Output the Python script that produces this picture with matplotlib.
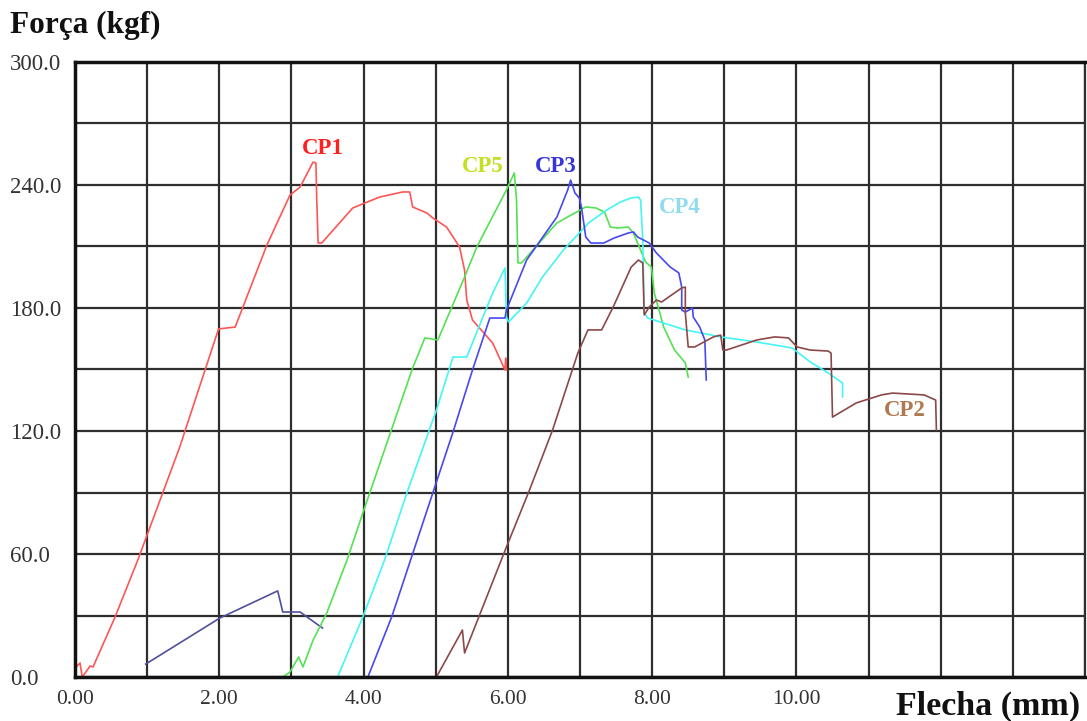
import matplotlib
matplotlib.use("Agg")
import matplotlib.pyplot as plt

# deflection (mm) / force (kgf)
cp1_x = [0.0, 0.07, 0.10, 0.15, 0.21, 0.25, 0.55, 0.87, 1.45, 1.99, 2.22, 2.66, 2.98, 3.12,
         3.30, 3.34, 3.35, 3.37, 3.42, 3.85, 4.22, 4.54, 4.64, 4.68, 4.88, 4.96, 5.15, 5.33,
         5.40, 5.43, 5.51, 5.79, 5.96, 5.97, 5.98]
cp1_y = [4.4, 6.8, 0.0, 2.4, 5.4, 4.9, 28.8, 57.0, 112.0, 169.8, 170.7, 210.7, 235.1, 239.0,
         251.2, 250.7, 234.0, 211.7, 211.7, 228.8, 234.1, 236.6, 236.6, 229.3, 226.3, 223.9,
         219.5, 209.8, 198.5, 183.9, 174.1, 162.9, 149.8, 155.6, 149.8]

cp1b_x = [0.98, 1.63, 2.01, 2.81, 2.88, 3.12, 3.43]
cp1b_y = [6.3, 20.5, 28.8, 42.0, 31.7, 31.7, 23.9]

cp5_x = [2.88, 2.98, 3.10, 3.16, 3.30, 3.49, 3.77, 3.99, 4.68, 4.85, 5.03, 5.40, 5.57, 5.98,
         6.09, 6.12, 6.14, 6.19, 6.68, 7.08, 7.22, 7.34, 7.42, 7.52, 7.67, 7.74, 7.91, 7.99,
         8.03, 8.16, 8.31, 8.46, 8.50]
cp5_y = [0.0, 2.4, 9.8, 4.9, 18.0, 31.2, 57.0, 80.0, 150.7, 165.4, 164.4, 195.1, 209.8, 237.6,
         245.9, 232.7, 202.0, 202.0, 221.5, 229.3, 228.8, 226.8, 219.5, 219.0, 219.5, 216.6,
         202.4, 200.0, 187.3, 170.7, 159.5, 153.2, 146.3]

cp4_x = [3.64, 3.99, 4.29, 4.60, 5.01, 5.24, 5.43, 5.79, 5.96, 5.98, 6.01, 6.26, 6.48, 6.77,
         7.12, 7.37, 7.56, 7.71, 7.81, 7.84, 7.87, 7.89, 7.94, 8.46, 8.95, 9.45, 9.94, 10.19,
         10.44, 10.64, 10.64]
cp4_y = [0.0, 29.3, 57.0, 89.8, 130.2, 156.1, 156.1, 187.3, 199.5, 175.6, 173.2, 182.4, 195.1,
         208.3, 221.5, 227.8, 231.7, 233.7, 234.1, 232.7, 213.2, 177.6, 175.1, 169.3, 165.9,
         163.4, 160.5, 153.7, 148.3, 143.4, 136.6]

cp3_x = [4.06, 4.39, 4.96, 5.24, 5.51, 5.75, 5.96, 5.98, 6.26, 6.68, 6.83, 6.87, 6.93, 6.99,
         7.02, 7.08, 7.15, 7.33, 7.47, 7.67, 7.74, 7.80, 7.96, 8.06, 8.25, 8.37, 8.41, 8.41,
         8.46, 8.56, 8.57, 8.66, 8.73, 8.75]
cp3_y = [0.0, 29.3, 89.8, 119.5, 149.8, 175.1, 175.1, 179.0, 203.4, 224.4, 237.6, 242.4, 236.1,
         233.7, 229.3, 214.6, 211.7, 211.7, 214.1, 216.6, 217.1, 214.6, 211.7, 206.8, 200.0,
         197.1, 190.2, 179.0, 178.0, 180.0, 175.6, 170.7, 164.4, 144.9]

cp2_x = [5.01, 5.37, 5.40, 5.98, 6.30, 6.62, 6.97, 7.11, 7.30, 7.46, 7.71, 7.81, 7.87, 7.89,
         7.96, 8.06, 8.13, 8.41, 8.46, 8.46, 8.50, 8.59, 8.85, 8.95, 8.98, 9.03, 9.45, 9.70,
         9.89, 10.01, 10.19, 10.44, 10.48, 10.50, 10.83, 11.18, 11.33, 11.77, 11.93, 11.94]
cp2_y = [0.0, 22.9, 11.7, 63.4, 91.2, 120.5, 158.0, 169.3, 169.3, 180.5, 200.0, 203.4, 202.0,
         176.6, 180.5, 183.9, 182.9, 189.8, 190.2, 177.6, 161.0, 161.0, 165.9, 166.8, 159.5,
         159.5, 164.4, 165.9, 165.4, 161.0, 159.5, 159.0, 158.0, 126.8, 133.7, 137.6, 138.5,
         137.6, 135.1, 120.5]

labels = ["CP1", "CP5", "CP3", "CP4", "CP2"]
label_x = [3.43, 5.65, 6.66, 8.38, 11.5]
label_y = [258, 249, 249, 229, 130]
label_colors = ["#ff2020", "#c4e020", "#3535d8", "#8fdcf0", "#b07850"]

x_ticks = list(range(0, 15))
x_tick_labels = ["0.00", "", "2.00", "", "4.00", "", "6.00", "", "8.00", "", "10.00", "", "", "", ""]
y_ticks = list(range(0, 301, 30))
y_tick_labels = ["0.0", "", "60.0", "", "120.0", "", "180.0", "", "240.0", "", "300.0"]

plt.rcParams["font.family"] = ["Liberation Serif", "DejaVu Serif"]

fig = plt.figure(figsize=(10.87, 7.21), dpi=100)
ax = fig.add_axes([75 / 1087, 44 / 721, 1010 / 1087, 615 / 721])

lw = 1.2
ax.plot(cp1_x, cp1_y, color="#ff5555", lw=lw)
ax.plot(cp1b_x, cp1b_y, color="#50509a", lw=lw)
ax.plot(cp5_x, cp5_y, color="#55e055", lw=lw)
ax.plot(cp4_x, cp4_y, color="#45f5f5", lw=lw)
ax.plot(cp3_x, cp3_y, color="#4848f0", lw=lw)
ax.plot(cp2_x, cp2_y, color="#8c4848", lw=lw)

for name, lx, ly, c in zip(labels, label_x, label_y, label_colors):
    ax.text(lx, ly, name, color=c, fontsize=16.5, fontweight="bold", ha="center", va="center")

ax.set_xlim(0, 14)
ax.set_ylim(0, 300)
ax.set_xticks(x_ticks)
ax.set_xticklabels(x_tick_labels)
ax.set_yticks(y_ticks)
ax.set_yticklabels(y_tick_labels)
ax.grid(True, color="#2e2e2e", lw=1.6)
ax.set_axisbelow(True)
ax.tick_params(axis="both", length=0, labelcolor="#333333")
ax.tick_params(axis="x", pad=9, labelsize=15.5)
ax.tick_params(axis="y", pad=47, labelsize=16.5)
for t in ax.get_yticklabels():
    t.set_horizontalalignment("left")

for side in ["left", "bottom", "top"]:
    ax.spines[side].set_linewidth(2.5)
    ax.spines[side].set_color("#111111")
ax.spines["right"].set_linewidth(1.6)
ax.spines["right"].set_color("#2e2e2e")

fig.text(10 / 1087, 1 - 25 / 721, "Força (kgf)", fontsize=22.5, fontweight="bold",
         ha="left", va="center", color="#111111")
fig.text(1080 / 1087, 1 - 706 / 721, "Flecha (mm)", fontsize=24.5, fontweight="bold",
         ha="right", va="center", color="#111111")

fig.savefig("out.png", dpi=100)
